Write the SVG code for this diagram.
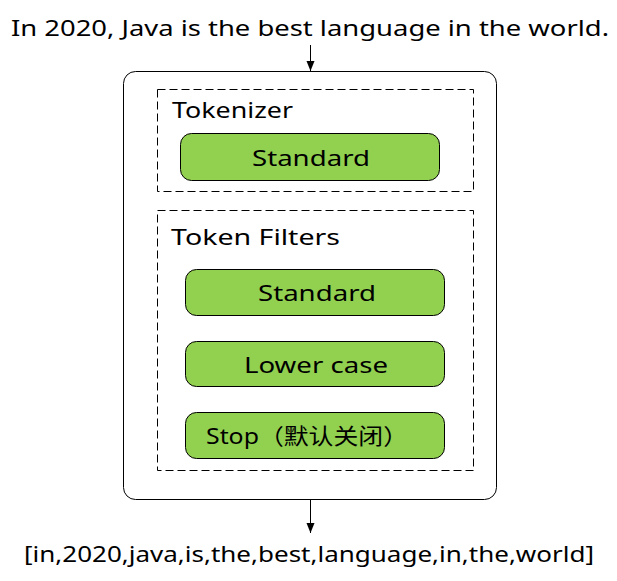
<svg xmlns="http://www.w3.org/2000/svg" width="617" height="581" viewBox="0 0 617 581">
<defs>
<style>
text{font-family:"Comic Sans MS","Noto Sans","Noto Sans CJK SC",sans-serif;fill:#000;font-size:22px}
.c{text-anchor:middle}
.box{fill:#92D050;stroke:#000;stroke-width:1}
.dash{fill:none;stroke:#000;stroke-width:1;stroke-dasharray:8 4}
.edge{fill:none;stroke:#000;stroke-width:1}
</style>
<marker id="arr" viewBox="0 0 10 10" refX="10" refY="5" markerWidth="10" markerHeight="10" markerUnits="userSpaceOnUse" orient="auto">
<path d="M0,1 L10,5 L0,9 Z" fill="#000"/>
</marker>
</defs>
<rect width="617" height="581" fill="#fff"/>
<g id="input"><text class="c" x="310" y="36" textLength="598" lengthAdjust="spacingAndGlyphs">In 2020, Java is the best language in the world.</text></g>
<g id="analyzer"><rect x="123.5" y="71.5" width="373" height="428" rx="12" fill="#fff" stroke="#000"/></g>
<g id="tokenizer"><rect class="dash" x="157.5" y="89.5" width="316" height="102"/><text x="172" y="118" textLength="121" lengthAdjust="spacingAndGlyphs">Tokenizer</text></g>
<g id="tok-standard"><rect class="box" x="180.5" y="133.5" width="259" height="47" rx="11"/><text class="c" x="311" y="166" textLength="118" lengthAdjust="spacingAndGlyphs">Standard</text></g>
<g id="filters"><rect class="dash" x="157.5" y="210.5" width="316" height="260"/><text x="171" y="245" textLength="169" lengthAdjust="spacingAndGlyphs">Token Filters</text></g>
<g id="f-standard"><rect class="box" x="185.5" y="269.5" width="259" height="46" rx="11"/><text class="c" x="317" y="301" textLength="118" lengthAdjust="spacingAndGlyphs">Standard</text></g>
<g id="f-lower"><rect class="box" x="185.5" y="341.5" width="259" height="45" rx="11"/><text class="c" x="316" y="373" textLength="144" lengthAdjust="spacingAndGlyphs">Lower case</text></g>
<g id="f-stop"><rect class="box" x="185.5" y="412.5" width="259" height="46" rx="11"/><text x="206" y="444" textLength="202" lengthAdjust="spacingAndGlyphs">Stop（默认关闭）</text></g>
<g id="output"><text class="c" x="309" y="562" textLength="570" lengthAdjust="spacingAndGlyphs">[in,2020,java,is,the,best,language,in,the,world]</text></g>
<g id="connectors">
<line class="edge" x1="310.5" y1="45" x2="310.5" y2="71" marker-end="url(#arr)"/>
<line class="edge" x1="310.5" y1="500" x2="310.5" y2="533" marker-end="url(#arr)"/>
</g>
</svg>
